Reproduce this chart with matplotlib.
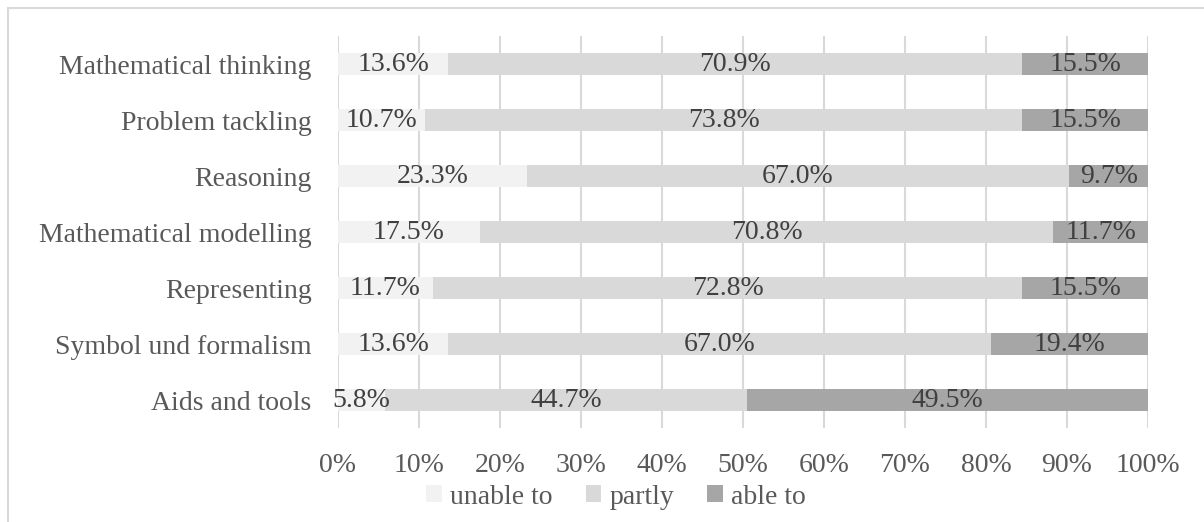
import matplotlib.pyplot as plt
from matplotlib.patches import Rectangle

categories = ['Mathematical thinking', 'Problem tackling', 'Reasoning',
              'Mathematical modelling', 'Representing', 'Symbol und formalism',
              'Aids and tools']
unable = [13.6, 10.7, 23.3, 17.5, 11.7, 13.6, 5.8]
partly = [70.9, 73.8, 67.0, 70.8, 72.8, 67.0, 44.7]
able = [15.5, 15.5, 9.7, 11.7, 15.5, 19.4, 49.5]
series_names = ['unable to', 'partly', 'able to']
colors = ['#f2f2f2', '#d9d9d9', '#a6a6a6']

plt.rcParams['font.family'] = ['Liberation Serif', 'DejaVu Serif']
plt.rcParams['font.size'] = 20

fig = plt.figure(figsize=(12.04, 5.22), dpi=100)
ax = fig.add_axes([338 / 1204, 1 - 428 / 522, 810 / 1204, 392 / 522])

# border of chart area
fig.patches.append(Rectangle((8 / 1204, -0.1), 1.2, 1 - 8 / 522 + 0.1,
                             transform=fig.transFigure, fill=False,
                             edgecolor='#d9d9d9', linewidth=1.5))

y = list(range(len(categories)))
left = [0] * len(categories)
for vals, name, c in zip([unable, partly, able], series_names, colors):
    bars = ax.barh(y, vals, left=left, height=0.38, color=c, label=name, zorder=2)
    for b, v in zip(bars, vals):
        ax.text(b.get_x() + b.get_width() / 2, b.get_y() + b.get_height() / 2,
                f'{v:.1f}%', ha='center', va='center', color='#404040', zorder=3)
    left = [l + v for l, v in zip(left, vals)]

ax.set_xlim(0, 100)
ax.set_ylim(len(categories) - 0.5, -0.5)
ax.set_yticks(y)
ax.set_yticklabels(categories)
ax.set_xticks(range(0, 101, 10))
ax.set_xticklabels([f'{t}%' for t in range(0, 101, 10)])
ax.tick_params(axis='both', length=0, colors='#595959')
ax.tick_params(axis='x', pad=18)
ax.tick_params(axis='y', pad=19)
ax.grid(axis='x', color='#d9d9d9', linewidth=1.5, zorder=0)
for s in ax.spines.values():
    s.set_visible(False)

fig.legend(loc='center', bbox_to_anchor=(616 / 1204, 1 - 497 / 522), ncol=3,
           frameon=False, handlelength=0.55, handleheight=0.55,
           handletextpad=0.3, columnspacing=1.2, labelcolor='#595959',
           borderaxespad=0, borderpad=0)

plt.savefig('out.png', dpi=100)
